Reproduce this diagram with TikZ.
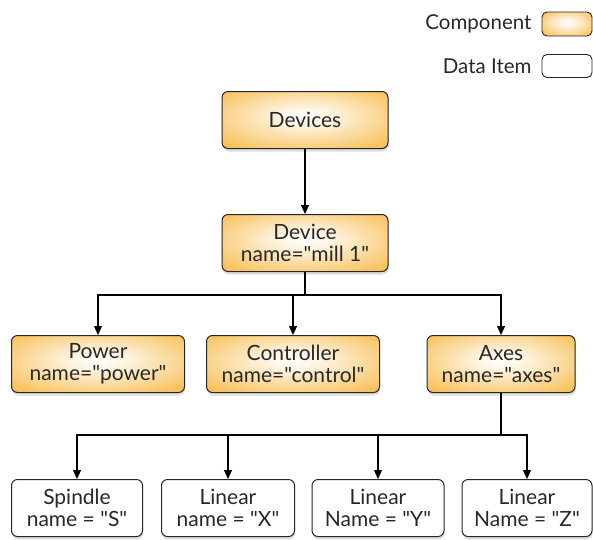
\documentclass[tikz,border=0pt]{standalone}
\usepackage{fontspec}
\setmainfont{Lato}[Ligatures=TeXOff]
\usepackage{tikz}
\usetikzlibrary{arrows.meta,shadows}
\definecolor{compcol}{RGB}{246,180,56}
\definecolor{textcol}{RGB}{40,40,40}
\pgfdeclareradialshading{compshade}{\pgfpoint{0bp}{4bp}}{color(0bp)=(white); color(8bp)=(white!85!compcol); color(40bp)=(compcol); color(60bp)=(compcol)}

\tikzset{
  box/.style={draw=black!85, line width=1pt, rounded corners=6pt, align=center,
    text=textcol, font=\fontsize{21}{22}\selectfont, minimum height=57pt,
    drop shadow={opacity=0.25, shadow xshift=0.5pt, shadow yshift=-3pt}},
  comp/.style={box, shading=compshade},
  item/.style={box, fill=white},
  arr/.style={-{Triangle[length=9pt,width=8pt]}, line width=1.2pt},
  legtext/.style={anchor=east, text=textcol, font=\fontsize{20.5}{22}\selectfont},
}

\begin{document}
\begin{tikzpicture}[x=1pt,y=-1pt]
\useasboundingbox (0,0) rectangle (593,539);
% legend
\node[legtext] (lcomp) at (535,24) {Component};
\node[draw=black!85, line width=0.9pt, rounded corners=5pt, shading=compshade, minimum width=50pt, minimum height=24pt] (lcompbox) at (567,24) {};
\node[legtext] (litem) at (535,66) {Data Item};
\node[draw=black!85, line width=0.9pt, rounded corners=5pt, fill=white, minimum width=50pt, minimum height=23pt] (litembox) at (567,66) {};
% components
\node[comp, minimum width=166pt] (devs) at (305,120) {Devices};
\node[comp, minimum width=166pt] (dev) at (305,243) {Device\\name="mill 1"};
\node[comp, minimum width=173pt] (power) at (98,364) {Power\\name="power"};
\node[comp, minimum width=173pt] (ctrl) at (293,364) {Controller\\name="control"};
\node[comp, minimum width=148pt] (axes) at (501,364) {Axes\\name="axes"};
% data items
\node[item, minimum width=131pt] (spindle) at (77,508) {Spindle\\name = "S"};
\node[item, minimum width=133pt] (linx) at (228,508) {Linear\\name = "X"};
\node[item, minimum width=132pt] (liny) at (378,508) {Linear\\Name = "Y"};
\node[item, minimum width=130pt] (linz) at (527,508) {Linear\\Name = "Z"};
% connectors
\coordinate (bus1) at (0,295);
\coordinate (bus2) at (0,435);
\draw [arr] (devs) -- (dev);
\draw [arr] (dev.south) -- (dev.south |- bus1) -| (power.north);
\draw [arr] (dev.south |- bus1) -| (axes.north);
\draw [arr] (ctrl.north |- bus1) -- (ctrl.north);
\draw [arr] (axes.south) -- (axes.south |- bus2) -| (spindle.north);
\draw [arr] (axes.south |- bus2) -| (linz.north);
\draw [arr] (linx.north |- bus2) -- (linx.north);
\draw [arr] (liny.north |- bus2) -- (liny.north);
\end{tikzpicture}
\end{document}
